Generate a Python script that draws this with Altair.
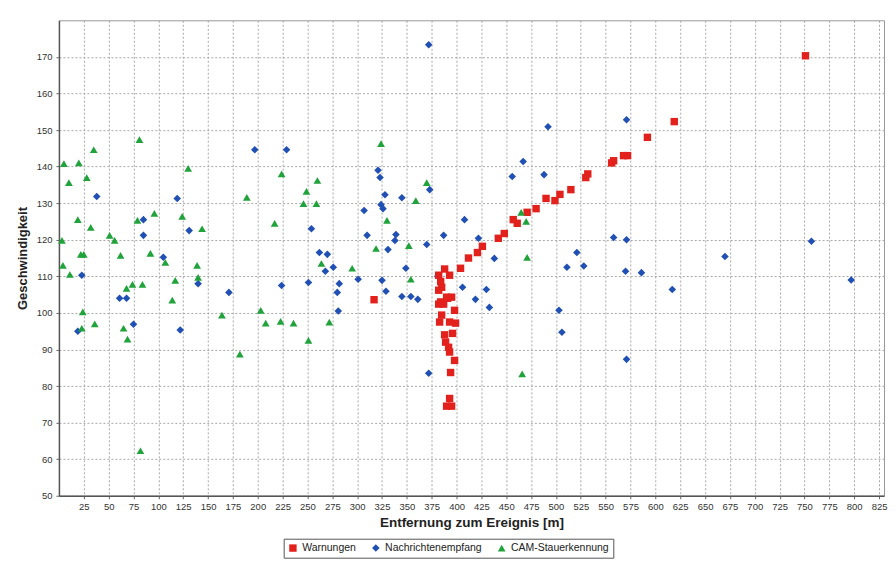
import altair as alt
import pandas as pd

series_names = ["Warnungen", "Nachrichtenempfang", "CAM-Stauerkennung"]
series_colors = ["#e3211c", "#2150b5", "#1fa33a"]
series_shapes = ["square", "diamond", "triangle-up"]
series_sizes = [55, 60, 95]

x_ticks = list(range(25, 826, 25))
y_ticks = list(range(50, 171, 10))

warn_x = [317, 382, 388, 393, 384, 385, 382, 390, 395, 384, 382, 387, 391, 398, 385, 383, 393, 399,
          396, 389, 393, 398, 394, 393, 390, 395, 388, 392, 404, 412, 421, 426, 442, 448, 457, 461,
          471, 480, 490, 499, 504, 515, 530, 532, 556, 558, 568, 572, 592, 619, 751]
warn_y = [103.6, 110.3, 112, 110.3, 108.6, 107, 106.2, 104.3, 104.3, 103, 102.4, 102.4, 104, 100.7,
          99.4, 97.5, 97.5, 97.2, 94.4, 92, 89.3, 87, 83.7, 76.6, 74.5, 74.5, 94, 90.6, 112.2, 115,
          116.5, 118.2, 120.4, 121.7, 125.5, 124.5, 127.5, 128.5, 131.3, 130.7, 132.4, 133.7, 137,
          138, 141, 141.6, 143, 143, 148, 152.3, 170.3]

msg_x = [19, 23, 38, 61, 68, 75, 85, 85, 105, 119, 122, 131, 140, 171, 197, 224, 229, 251, 254, 262,
         268, 270, 276, 280, 281, 282, 301, 307, 310, 321, 323, 324, 326, 328, 345, 339, 338, 331,
         325, 329, 345, 354, 361, 349, 370, 373, 372, 372, 381, 387, 406, 408, 419, 422, 430, 433,
         438, 456, 467, 488, 492, 503, 506, 511, 521, 528, 558, 570, 571, 571, 571, 586, 617, 670,
         757, 797]
msg_y = [95, 110.3, 131.8, 104, 104, 96.9, 125.5, 121.2, 115.2, 131.3, 95.3, 122.5, 108, 105.6,
         144.6, 107.5, 144.6, 108.3, 123, 116.5, 111.4, 116, 112.5, 105.6, 100.5, 108, 109.2, 128,
         121.2, 139, 137, 129.6, 128.5, 132.3, 131.5, 121.4, 119.8, 117.3, 108.9, 105.9, 104.5,
         104.5, 103.7, 112.2, 118.7, 133.7, 83.5, 173.3, 110, 121.2, 107, 125.5, 103.7, 120.4,
         106.4, 101.5, 114.9, 137.3, 141.4, 137.8, 150.9, 100.7, 94.7, 112.5, 116.5, 112.8, 120.6,
         111.4, 120, 152.8, 87.3, 111, 106.4, 115.4, 119.6, 109]

cam_x = [3, 4, 5, 10, 11, 19, 20, 22, 25, 23, 24, 28, 32, 35, 36, 51, 56, 62, 65, 68, 69, 74, 79, 81,
         82, 84, 92, 96, 107, 114, 117, 124, 130, 139, 140, 144, 164, 182, 189, 203, 208, 217, 223,
         224, 236, 246, 249, 251, 259, 260, 264, 272, 295, 319, 324, 330, 352, 354, 359, 370, 465,
         470, 471, 466]
cam_y = [119.8, 113, 140.8, 135.6, 110.5, 125.5, 141, 116, 116, 95.8, 100.3, 137, 123.4, 144.6, 97,
         121.2, 119.8, 115.7, 95.8, 106.7, 92.8, 107.8, 125.3, 147.4, 62.3, 107.8, 116.3, 127.2,
         113.8, 103.5, 108.9, 126.4, 139.5, 113, 109.7, 123, 99.4, 88.7, 131.6, 100.7, 97.2, 124.5,
         97.7, 138, 97.2, 129.9, 133.2, 92.5, 129.9, 136.2, 113.5, 97.5, 112.2, 117.6, 146.3, 125.3,
         118.4, 109.2, 130.7, 135.6, 127.5, 125, 115.2, 83.3]

rows = []
for name, xs, ys in zip(series_names, [warn_x, msg_x, cam_x], [warn_y, msg_y, cam_y]):
    for a, b in zip(xs, ys):
        rows.append({"Serie": name, "x": a, "y": b})
df = pd.DataFrame(rows)

FONT = "Liberation Sans"

chart = alt.Chart(df).mark_point(filled=True, opacity=1, strokeWidth=0).encode(
    x=alt.X("x:Q",
            scale=alt.Scale(domain=[0, 830], nice=False, zero=False),
            axis=alt.Axis(values=x_ticks, title="Entfernung zum Ereignis [m]",
                          labelFontSize=9.5, labelColor="#333", labelPadding=3,
                          titleFontSize=13.5, titleFontWeight="bold", titleColor="#222",
                          titlePadding=4, tickSize=3, tickColor="#666",
                          domainColor="#555", domainWidth=1.5, labelFlush=False)),
    y=alt.Y("y:Q",
            scale=alt.Scale(domain=[50, 180], nice=False, zero=False),
            axis=alt.Axis(values=y_ticks, title="Geschwindigkeit",
                          labelFontSize=9.5, labelColor="#333", labelPadding=4,
                          titleFontSize=13, titleFontWeight="bold", titleColor="#222",
                          titlePadding=7, tickSize=3, tickColor="#666",
                          domainColor="#555", domainWidth=1.5, labelFlush=False)),
    color=alt.Color("Serie:N",
                    scale=alt.Scale(domain=series_names, range=series_colors),
                    legend=alt.Legend(title=None, orient="none", direction="horizontal",
                                      legendX=225, legendY=519,
                                      strokeColor="#555", fillColor="white", padding=4,
                                      labelFontSize=10.5, labelColor="#222", labelFont=FONT,
                                      symbolSize=45, columnPadding=14, labelOffset=4,
                                      symbolStrokeWidth=0)),
    shape=alt.Shape("Serie:N",
                    scale=alt.Scale(domain=series_names, range=series_shapes)),
    size=alt.Size("Serie:N",
                  scale=alt.Scale(domain=series_names, range=series_sizes),
                  legend=None),
    order=alt.Order("order:Q"),
).transform_calculate(
    order="datum.Serie == 'Warnungen' ? 1 : (datum.Serie == 'Nachrichtenempfang' ? 0 : 2)"
).properties(
    width=826, height=476,
    autosize=alt.AutoSizeParams(type="none"),
    padding={"left": 51, "top": 12, "right": 4, "bottom": 64},
    background="white",
).configure_axis(
    labelFont=FONT, titleFont=FONT,
    grid=True, gridColor="#a8a8a8", gridDash=[2, 2], gridWidth=1,
).configure_view(
    stroke="#999", strokeWidth=1,
)

chart.save("out.html", embed_options={"renderer": "svg", "actions": False})
